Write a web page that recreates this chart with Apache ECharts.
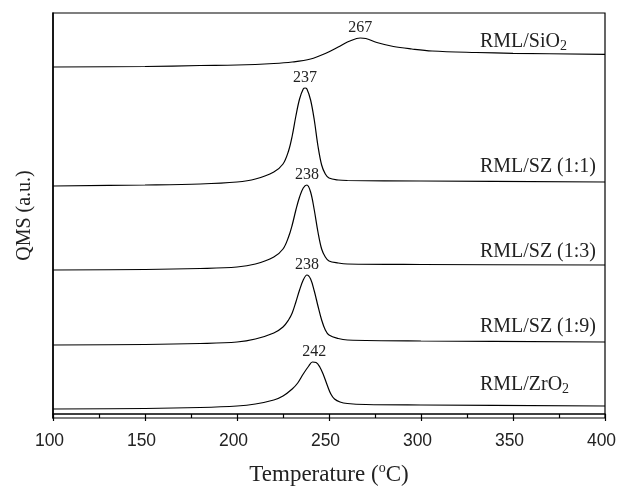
<!DOCTYPE html>
<html>
<head>
<meta charset="utf-8">
<script src="https://cdn.jsdelivr.net/npm/echarts@6/dist/echarts.min.js"></script>
<style>
  html, body { margin: 0; padding: 0; background: #fff; }
  #main { width: 617px; height: 487px; }
</style>
</head>
<body>
<div id="main"></div>
<script>
'use strict';

// curve data: [temperature, stacked signal]
var sio2 = [[100,347],[150,347.5],[180,348.5],[200,349],[220,350.5],[230,352],[240,355],[248,360.5],[255,367],[260,372],[265,375.5],[267,376],[270,375.5],[276,371.5],[285,367.5],[295,365],[306,363],[330,361.5],[350,360.7],[400,359.7]];
var sz11 = [[100,228],[150,229],[180,230],[200,232],[210,235],[220,242],[225,250],[228,263],[230,278],[232,298],[234,315],[236,325],[237,326],[238,325],[240,314],[242,294],[244,268],[246,249],[248,240],[250,236],[255,234],[260,233.5],[300,233],[400,232]];
var sz13 = [[100,144],[150,144.5],[180,145.5],[200,147],[210,150],[220,157],[225,165],[228,177],[230,189],[232,204],[234,217],[236,226],[238,229],[240,222],[242,204],[244,182],[246,165],[248,157],[250,153],[255,151],[260,150],[300,149.5],[400,149]];
var sz19 = [[100,69],[150,69.5],[180,70.5],[200,72],[210,75],[220,81],[225,87],[228,94],[230,101],[232,112],[234,124],[236,134],[238,139],[240,135],[242,123],[244,108],[246,94],[248,84],[250,79],[255,75.5],[260,74],[300,73],[400,72]];
var zro2 = [[100,5],[150,5.5],[180,6.5],[200,8],[210,10],[220,14],[225,18],[230,25],[233,31],[236,40],[239,48],[241,52],[243,51.5],[245,47],[247,39],[249,29],[251,20],[253,15],[256,12],[260,10.5],[270,9.5],[300,9],[400,8]];

var curves = [sio2, sz11, sz13, sz19, zro2];
var peakT = [267, 237, 238, 238, 242];
var peakY = [376, 326, 229, 139, 52];
var names = ['RML/SiO{sub|2}', 'RML/SZ (1:1)', 'RML/SZ (1:3)', 'RML/SZ (1:9)', 'RML/ZrO{sub|2}'];
var nameY = [372, 247, 162, 87, 29];
var xTicks = [100, 150, 200, 250, 300, 350, 400];

var serif = '"Liberation Serif", "DejaVu Serif", serif';
var sans = '"Liberation Sans", Arial, sans-serif';

var series = curves.map(function (d, i) {
    return {
        type: 'line',
        data: d,
        smooth: 0.35,
        showSymbol: false,
        lineStyle: { color: '#000', width: 1.2 },
        markPoint: {
            symbol: 'circle',
            symbolSize: 0,
            silent: true,
            data: [
                {
                    coord: [peakT[i], peakY[i]],
                    label: {
                        show: true, position: 'top', distance: 2,
                        formatter: String(peakT[i]),
                        color: '#222', fontFamily: serif, fontSize: 16
                    }
                },
                {
                    coord: [332, nameY[i]],
                    label: {
                        show: true, position: 'right', distance: 0,
                        formatter: names[i],
                        color: '#222', fontFamily: serif, fontSize: 20,
                        rich: { sub: { fontSize: 14, fontFamily: serif, color: '#222', verticalAlign: 'bottom', padding: [8, 0, 0, 0] } }
                    }
                }
            ]
        }
    };
});

var mChart = echarts.init(document.getElementById('main'));
mChart.setOption({
    backgroundColor: '#fff',
    animation: false,
    grid: {
        left: 53, right: 12, top: 13, bottom: 69,
        outerBoundsMode: 'none',
        show: true, borderColor: '#000', borderWidth: 1.2
    },
    xAxis: {
        type: 'value', min: 100, max: 400, interval: 50,
        name: 'Temperature ({sup|o}C)',
        nameLocation: 'middle', nameGap: 43,
        nameTextStyle: {
            fontFamily: serif, fontSize: 23, color: '#222',
            rich: { sup: { fontSize: 14, fontFamily: serif, color: '#222', padding: [0, 0, 14, 0] } }
        },
        axisLine: { show: true, lineStyle: { color: '#000', width: 1.5 } },
        axisTick: { show: true, inside: false, length: 7, lineStyle: { color: '#000', width: 1.2 } },
        minorTick: { show: true, splitNumber: 2, length: 4, lineStyle: { color: '#000', width: 1.2 } },
        splitLine: { show: false },
        axisLabel: {
            margin: 14, fontFamily: sans, fontSize: 17.5, color: '#222',
            padding: [0, 7, 0, 0],
            formatter: function (v) { return xTicks.indexOf(v) >= 0 ? String(v) : ''; }
        }
    },
    yAxis: {
        type: 'value', min: -4, max: 401,
        name: 'QMS (a.u.)',
        nameLocation: 'middle', nameGap: 18,
        nameTextStyle: { fontFamily: serif, fontSize: 20, color: '#222' },
        axisLine: { show: true, lineStyle: { color: '#000', width: 1.5 } },
        axisTick: { show: false },
        axisLabel: { show: false },
        splitLine: { show: false }
    },
    series: series
});
</script>
</body>
</html>
